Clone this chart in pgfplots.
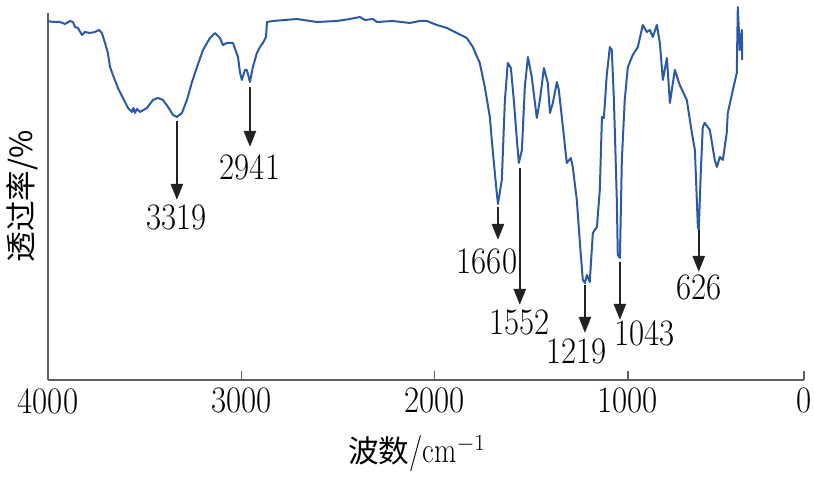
\documentclass[border=0pt]{standalone}
\usepackage{fontspec}
\usepackage{graphicx}
\usepackage{pgfplots}
\pgfplotsset{compat=1.18}
\usetikzlibrary{arrows.meta}
\newfontfamily\cjk{Noto Sans CJK SC}
\newcommand\nar[1]{\scalebox{0.88}[1]{#1}}
\newcommand\numfont{\fontsize{28}{31}\selectfont}
\definecolor{spec}{RGB}{44,88,168}
\definecolor{anncol}{RGB}{34,34,34}
\definecolor{axgray}{RGB}{95,95,95}

\pgfplotstableread{
w h
4000 359
3974 358
3938 358
3912 356
3886 359
3871 358
3860 353
3845 352
3824 345
3809 348
3783 347
3757 348
3736 350
3721 347
3705 337
3690 327
3679 313
3664 305
3638 292
3612 282
3586 272
3566 268
3558 272
3550 267
3540 271
3524 268
3488 272
3457 280
3431 282
3405 280
3379 273
3353 265
3333 263
3307 267
3281 280
3255 298
3229 313
3198 330
3162 342
3136 347
3110 342
3095 335
3074 337
3043 337
3017 323
3007 308
2997 300
2981 310
2971 310
2955 298
2940 313
2919 327
2903 333
2888 337
2872 343
2867 358
2836 359
2774 360
2712 361
2609 358
2505 359
2438 361
2386 363
2360 360
2319 361
2298 358
2216 359
2128 357
2076 359
2040 359
1988 355
1936 352
1885 347
1833 342
1802 333
1766 317
1740 293
1714 263
1698 227
1678 187
1672 176
1652 200
1636 280
1621 317
1605 312
1590 280
1574 240
1564 217
1548 230
1533 293
1517 323
1497 303
1471 262
1455 280
1434 312
1414 297
1403 267
1388 277
1367 298
1357 290
1336 253
1316 217
1295 222
1285 213
1264 180
1248 137
1233 100
1222 97
1212 105
1197 98
1181 147
1160 153
1145 190
1134 263
1124 262
1109 305
1093 333
1083 330
1072 280
1057 180
1052 125
1041 122
1031 220
1016 280
1000 313
972 325
943 333
915 355
892 348
875 350
858 343
835 355
818 337
801 300
778 322
761 277
733 310
705 295
665 280
636 247
619 230
602 153
597 150
585 210
574 253
563 257
534 250
506 220
494 213
477 223
460 220
438 247
432 267
403 290
381 307
375 373
364 330
352 350
350 320
}\spectrum

\tikzset{pk/.style={draw=anncol, line width=1.8pt, -{Triangle[width=9pt,length=12pt]}}}

\begin{document}
\begin{tikzpicture}
\begin{axis}[
  scale only axis, width=567pt, height=275.25pt,
  xmin=0, xmax=4000, ymin=0, ymax=367,
  x dir=reverse,
  x coord trafo/.code={\pgfmathparse{#1<=1000 ? 0.9103*#1 : #1-89.66}},
  x coord inv trafo/.code={\pgfmathparse{#1<=910.3 ? #1/0.9103 : #1+89.66}},
  axis x line=bottom, axis y line=left,
  axis line style={-, axgray, line width=1.1pt},
  xtick={0,1000,2000,3000,4000},
  xticklabels={\nar{0},\nar{1000},\nar{2000},\nar{3000},\nar{4000}},
  ytick=\empty,
  tick align=inside, major tick length=6.75pt,
  tick style={axgray, line width=1.1pt},
  ticklabel style={font=\numfont, inner sep=2pt, yshift=-4pt},
  clip=false,
]
\addplot[spec, line width=1.5pt, line join=round] table[x=w, y=h] {\spectrum};

\draw[pk] (axis cs:3333,259) -- (axis cs:3333,180);
\node[font=\numfont] at (axis cs:3333,162) {\nar{3319}};
\draw[pk] (axis cs:2955,293) -- (axis cs:2955,233);
\node[font=\numfont] at (axis cs:2955,213) {\nar{2941}};
\draw[pk] (axis cs:1672,173) -- (axis cs:1672,140);
\node[font=\numfont] at (axis cs:1729,118) {\nar{1660}};
\draw[pk] (axis cs:1559,212) -- (axis cs:1559,75);
\node[font=\numfont] at (axis cs:1559,57) {\nar{1552}};
\draw[pk] (axis cs:1222,95) -- (axis cs:1222,47);
\node[font=\numfont] at (axis cs:1264,28) {\nar{1219}};
\draw[pk] (axis cs:1041,118) -- (axis cs:1041,60);
\node[font=\numfont] at (axis cs:903,47) {\nar{1043}};
\draw[pk] (axis cs:597,150) -- (axis cs:597,108);
\node[font=\numfont] at (axis cs:597,92) {\nar{626}};
\end{axis}
\node[rotate=90, font=\cjk\fontsize{23}{26}\selectfont] at ([xshift=-19.5pt]current axis.west) {透过率/\%};
\node[font=\fontsize{27}{30}\selectfont] at ([xshift=-6.75pt, yshift=-55.5pt]current axis.south) {{\cjk\fontsize{23}{26}\selectfont 波数}\scalebox{0.8}[1]{/cm}$^{-1}$};
\path ([xshift=-36pt,yshift=-66.75pt]current axis.south west) rectangle ([xshift=7.5pt,yshift=9.75pt]current axis.north east);
\end{tikzpicture}
\end{document}
